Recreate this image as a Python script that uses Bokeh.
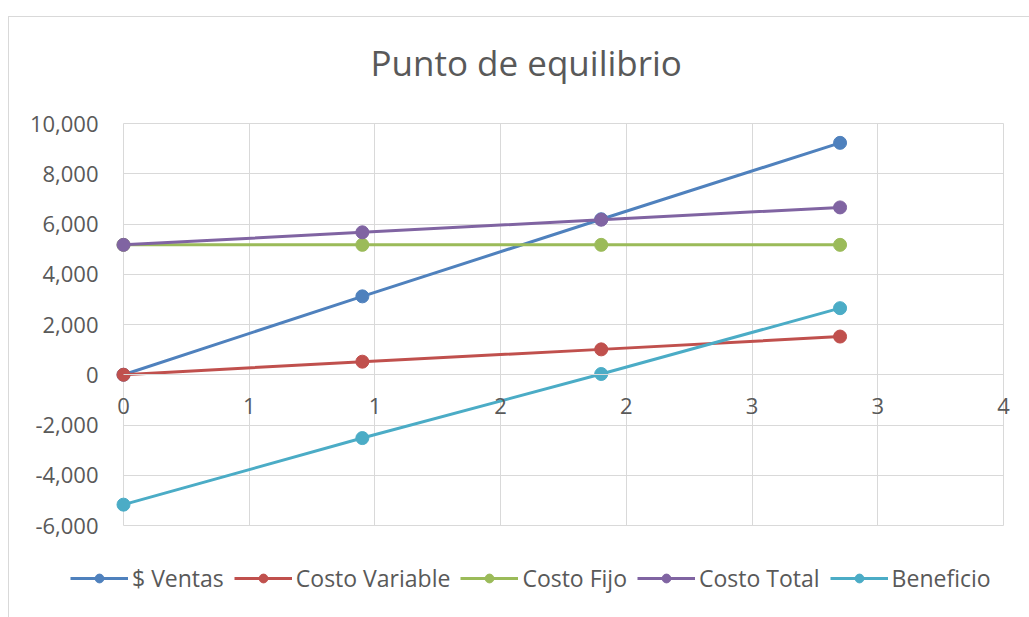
from bokeh.plotting import figure
from bokeh.models import (Range1d, FixedTicker, NumeralTickFormatter, Legend, LegendItem)
from bokeh.embed import file_html
from bokeh.resources import INLINE

# ---- data ----
title_text = "Punto de equilibrio"
x_vals = [0, 0.95, 1.9, 2.85]
ventas = [0, 3120, 6190, 9230]
costo_variable = [0, 520, 1010, 1520]
costo_fijo = [5170, 5170, 5170, 5170]
costo_total = [5170, 5670, 6170, 6660]
beneficio = [-5170, -2520, 30, 2650]
series_names = ["$ Ventas", "Costo Variable", "Costo Fijo", "Costo Total", "Beneficio"]
series_colors = ["#4F81BD", "#C0504D", "#9BBB59", "#8064A2", "#4BACC6"]
x_ticks = [0, 0.5, 1.0, 1.5, 2.0, 2.5, 3.0, 3.5]
x_tick_labels = ["0", "1", "1", "2", "2", "3", "3", "4"]
y_ticks = [-6000, -4000, -2000, 0, 2000, 4000, 6000, 8000, 10000]

FONT = "Open Sans"
GREY = "#595959"
GRID = "#d9d9d9"

X0, X1 = x_ticks[0], x_ticks[-1]
Y0, Y1 = y_ticks[0], y_ticks[-1]
BOX_W, BOX_H = 880, 402                   # plot box in px
PAD_L, PAD_R, PAD_B, PAD_T = 53, 15, 75, 16  # extra frame room for labels, legend, title
ux = (X1 - X0) / BOX_W
uy = (Y1 - Y0) / BOX_H

p = figure(width=1020, height=600, output_backend="svg", toolbar_location=None,
           x_range=Range1d(X0 - PAD_L * ux, X1 + PAD_R * ux),
           y_range=Range1d(Y0 - PAD_B * uy, Y1 + PAD_T * uy),
           frame_width=BOX_W + PAD_L + PAD_R, frame_height=BOX_H + PAD_B + PAD_T,
           min_border_left=114 - PAD_L, min_border_right=26 - PAD_R,
           min_border_top=106 - PAD_T, min_border_bottom=92 - PAD_B)
p.margin = (16, 0, 0, 8)
p.styles = {"border-top": "1px solid #d9d9d9", "border-left": "1px solid #d9d9d9"}
p.background_fill_color = "white"
p.border_fill_color = "white"
p.outline_line_color = None

p.title.text = title_text
p.title.align = "left"
p.title.offset = 247 + PAD_L
p.title.vertical_align = "top"
p.title.standoff = 40
p.title.text_font = FONT
p.title.text_font_size = "35px"
p.title.text_font_style = "normal"
p.title.text_color = GREY

# axes
p.xaxis.ticker = FixedTicker(ticks=x_ticks)
p.xaxis.major_label_overrides = {t: l for t, l in zip(x_ticks, x_tick_labels)}
p.xaxis.fixed_location = 0
p.xaxis.bounds = (X0, X1)
p.xaxis.axis_line_color = GRID
p.xaxis.major_tick_line_color = None
p.xaxis.minor_tick_line_color = None
p.xaxis.major_tick_out = 0
p.xaxis.major_tick_in = 0
p.xaxis.major_label_standoff = 23
p.xaxis.major_label_text_font = FONT
p.xaxis.major_label_text_font_size = "22px"
p.xaxis.major_label_text_color = GREY

p.yaxis.ticker = FixedTicker(ticks=y_ticks)
p.yaxis.formatter = NumeralTickFormatter(format="0,0")
p.yaxis.bounds = (Y0, Y1)
p.yaxis.axis_line_color = None
p.yaxis.major_tick_line_color = None
p.yaxis.minor_tick_line_color = None
p.yaxis.major_tick_out = 0
p.yaxis.major_tick_in = 0
p.yaxis.major_label_standoff = 25 - PAD_L
p.yaxis.major_label_text_font = FONT
p.yaxis.major_label_text_font_size = "22px"
p.yaxis.major_label_text_color = GREY

xg = p.xgrid[0]
yg = p.ygrid[0]
xg.ticker = FixedTicker(ticks=x_ticks)
yg.ticker = FixedTicker(ticks=y_ticks)
xg.bounds = (X0, X1)
yg.bounds = (Y0, Y1)
if "cross_bounds" in xg.properties():
    xg.cross_bounds = (Y0, Y1)
    yg.cross_bounds = (X0, X1)
xg.grid_line_color = GRID
yg.grid_line_color = GRID

all_series = [ventas, costo_variable, costo_fijo, costo_total, beneficio]
items = []
for name, color, ys in zip(series_names, series_colors, all_series):
    lr = p.line(x_vals, ys, line_color=color, line_width=3)
    sr = p.scatter(x_vals, ys, size=13, fill_color=color, line_color=color)
    items.append(LegendItem(label=name, renderers=[lr, sr]))

legend = Legend(items=items, orientation="horizontal", location=(0, 6),
                glyph_width=58, glyph_height=22, label_standoff=4, spacing=10,
                padding=0, margin=0, border_line_color=None, background_fill_alpha=0,
                label_text_font=FONT, label_text_font_size="23px", label_text_color=GREY)
p.add_layout(legend, "center")

open("out.html", "w").write(file_html(p, INLINE))
